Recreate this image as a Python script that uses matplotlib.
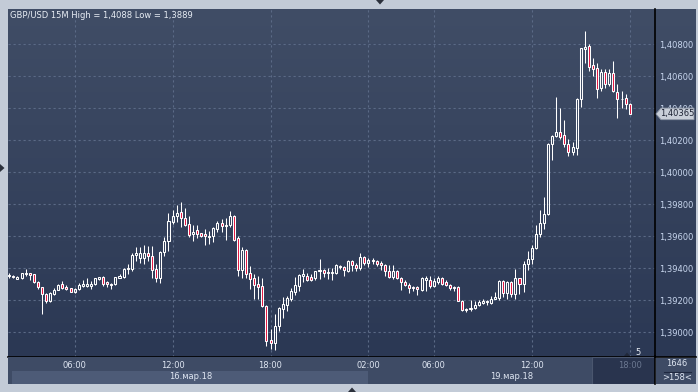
import numpy as np
import pandas as pd
import matplotlib
matplotlib.use('Agg')
import matplotlib.pyplot as plt
from matplotlib.patches import Rectangle, Polygon

# GBP/USD 15M candles, Fri 16.03.18 02:00-21:45 and Mon 19.03.18 00:00-18:00
opens = [1.39350, 1.39352, 1.39336, 1.39340, 1.39363, 1.39369, 1.39363, 1.39315, 1.39281, 1.39242,
         1.39196, 1.39242, 1.39267, 1.39300, 1.39286, 1.39275, 1.39250, 1.39273, 1.39290, 1.39290,
         1.39288, 1.39304, 1.39334, 1.39344, 1.39315, 1.39304, 1.39300, 1.39342, 1.39344, 1.39394,
         1.39394, 1.39482, 1.39463, 1.39465, 1.39495, 1.39476, 1.39393, 1.39341, 1.39504, 1.39569,
         1.39690, 1.39728, 1.39749, 1.39717, 1.39679, 1.39614, 1.39637, 1.39618, 1.39616, 1.39597,
         1.39601, 1.39643, 1.39685, 1.39664, 1.39669, 1.39728, 1.39592, 1.39389, 1.39516, 1.39368,
         1.39341, 1.39300, 1.39288, 1.39165, 1.38949, 1.38934, 1.39040, 1.39144, 1.39171, 1.39209,
         1.39250, 1.39292, 1.39353, 1.39355, 1.39345, 1.39341, 1.39381, 1.39389, 1.39377, 1.39372,
         1.39368, 1.39417, 1.39407, 1.39386, 1.39444, 1.39423, 1.39402, 1.39469, 1.39436, 1.39444,
         1.39448, 1.39434, 1.39423, 1.39386, 1.39346, 1.39386, 1.39340, 1.39312, 1.39298, 1.39282,
         1.39285, 1.39266, 1.39327, 1.39329, 1.39292, 1.39315, 1.39340, 1.39315, 1.39298, 1.39283,
         1.39285, 1.39197, 1.39147, 1.39145, 1.39151, 1.39172, 1.39185, 1.39190, 1.39185, 1.39210,
         1.39217, 1.39321, 1.39248, 1.39317, 1.39237, 1.39337, 1.39300, 1.39425, 1.39460, 1.39529,
         1.39612, 1.39685, 1.39737, 1.40175, 1.40227, 1.40254, 1.40231, 1.40175, 1.40127, 1.40154,
         1.40460, 1.40773, 1.40789, 1.40669, 1.40654, 1.40529, 1.40629, 1.40550, 1.40623, 1.40502,
         1.40460, 1.40462, 1.40425]
highs = [1.39373, 1.39358, 1.39354, 1.39373, 1.39394, 1.39373, 1.39365, 1.39319, 1.39285, 1.39246,
         1.39250, 1.39275, 1.39302, 1.39321, 1.39294, 1.39279, 1.39275, 1.39307, 1.39325, 1.39338,
         1.39321, 1.39342, 1.39346, 1.39350, 1.39319, 1.39311, 1.39348, 1.39367, 1.39402, 1.39429,
         1.39498, 1.39533, 1.39533, 1.39546, 1.39542, 1.39542, 1.39425, 1.39510, 1.39594, 1.39743,
         1.39764, 1.39796, 1.39812, 1.39774, 1.39728, 1.39669, 1.39673, 1.39622, 1.39647, 1.39633,
         1.39658, 1.39694, 1.39711, 1.39715, 1.39757, 1.39732, 1.39599, 1.39531, 1.39520, 1.39415,
         1.39362, 1.39351, 1.39341, 1.39171, 1.39023, 1.39112, 1.39161, 1.39220, 1.39224, 1.39277,
         1.39345, 1.39366, 1.39398, 1.39368, 1.39362, 1.39383, 1.39461, 1.39398, 1.39404, 1.39400,
         1.39425, 1.39423, 1.39413, 1.39450, 1.39455, 1.39434, 1.39496, 1.39475, 1.39463, 1.39465,
         1.39450, 1.39444, 1.39427, 1.39419, 1.39421, 1.39392, 1.39344, 1.39325, 1.39308, 1.39290,
         1.39290, 1.39346, 1.39350, 1.39355, 1.39340, 1.39350, 1.39346, 1.39327, 1.39302, 1.39292,
         1.39287, 1.39204, 1.39155, 1.39199, 1.39193, 1.39204, 1.39206, 1.39200, 1.39227, 1.39252,
         1.39327, 1.39327, 1.39321, 1.39321, 1.39394, 1.39342, 1.39446, 1.39508, 1.39546, 1.39669,
         1.39762, 1.39846, 1.40185, 1.40231, 1.40473, 1.40400, 1.40325, 1.40206, 1.40189, 1.40467,
         1.40779, 1.40880, 1.40800, 1.40717, 1.40681, 1.40644, 1.40648, 1.40648, 1.40696, 1.40550,
         1.40508, 1.40487, 1.40435]
lows = [1.39338, 1.39338, 1.39332, 1.39336, 1.39352, 1.39327, 1.39306, 1.39269, 1.39117, 1.39186,
        1.39192, 1.39234, 1.39263, 1.39269, 1.39265, 1.39250, 1.39246, 1.39263, 1.39284, 1.39284,
        1.39269, 1.39298, 1.39330, 1.39290, 1.39284, 1.39273, 1.39298, 1.39338, 1.39340, 1.39367,
        1.39384, 1.39446, 1.39436, 1.39425, 1.39446, 1.39341, 1.39313, 1.39309, 1.39478, 1.39510,
        1.39679, 1.39690, 1.39658, 1.39664, 1.39594, 1.39573, 1.39588, 1.39594, 1.39546, 1.39552,
        1.39563, 1.39630, 1.39626, 1.39578, 1.39658, 1.39573, 1.39351, 1.39341, 1.39341, 1.39271,
        1.39207, 1.39207, 1.39161, 1.38917, 1.38895, 1.38890, 1.39008, 1.39087, 1.39133, 1.39193,
        1.39235, 1.39256, 1.39313, 1.39319, 1.39319, 1.39330, 1.39334, 1.39345, 1.39334, 1.39330,
        1.39362, 1.39398, 1.39350, 1.39377, 1.39386, 1.39381, 1.39392, 1.39423, 1.39410, 1.39427,
        1.39415, 1.39392, 1.39350, 1.39340, 1.39335, 1.39335, 1.39267, 1.39287, 1.39246, 1.39256,
        1.39235, 1.39260, 1.39256, 1.39275, 1.39283, 1.39300, 1.39296, 1.39287, 1.39267, 1.39260,
        1.39193, 1.39131, 1.39126, 1.39135, 1.39145, 1.39164, 1.39175, 1.39171, 1.39175, 1.39206,
        1.39202, 1.39223, 1.39206, 1.39223, 1.39210, 1.39237, 1.39254, 1.39390, 1.39425, 1.39519,
        1.39596, 1.39646, 1.39733, 1.40075, 1.40223, 1.40210, 1.40160, 1.40100, 1.40108, 1.40108,
        1.40410, 1.40685, 1.40633, 1.40602, 1.40467, 1.40508, 1.40529, 1.40539, 1.40502, 1.40342,
        1.40404, 1.40394, 1.40362]
closes = [1.39358, 1.39348, 1.39346, 1.39369, 1.39373, 1.39358, 1.39315, 1.39281, 1.39238, 1.39194,
          1.39244, 1.39265, 1.39298, 1.39275, 1.39273, 1.39252, 1.39271, 1.39298, 1.39300, 1.39302,
          1.39304, 1.39338, 1.39344, 1.39304, 1.39300, 1.39296, 1.39344, 1.39352, 1.39398, 1.39404,
          1.39484, 1.39494, 1.39494, 1.39493, 1.39474, 1.39389, 1.39341, 1.39504, 1.39573, 1.39694,
          1.39726, 1.39743, 1.39715, 1.39673, 1.39609, 1.39630, 1.39616, 1.39605, 1.39599, 1.39605,
          1.39652, 1.39681, 1.39664, 1.39673, 1.39726, 1.39580, 1.39389, 1.39516, 1.39362, 1.39334,
          1.39298, 1.39283, 1.39165, 1.38947, 1.38934, 1.39038, 1.39150, 1.39176, 1.39214, 1.39256,
          1.39294, 1.39357, 1.39364, 1.39330, 1.39330, 1.39381, 1.39389, 1.39368, 1.39372, 1.39377,
          1.39419, 1.39407, 1.39390, 1.39444, 1.39423, 1.39402, 1.39469, 1.39434, 1.39450, 1.39452,
          1.39427, 1.39423, 1.39386, 1.39346, 1.39386, 1.39340, 1.39312, 1.39298, 1.39277, 1.39277,
          1.39269, 1.39340, 1.39340, 1.39292, 1.39319, 1.39340, 1.39302, 1.39298, 1.39277, 1.39279,
          1.39197, 1.39141, 1.39141, 1.39155, 1.39172, 1.39189, 1.39194, 1.39194, 1.39210, 1.39221,
          1.39321, 1.39244, 1.39317, 1.39237, 1.39337, 1.39300, 1.39425, 1.39456, 1.39525, 1.39612,
          1.39681, 1.39737, 1.40175, 1.40227, 1.40254, 1.40223, 1.40175, 1.40127, 1.40158, 1.40460,
          1.40775, 1.40783, 1.40660, 1.40648, 1.40519, 1.40629, 1.40550, 1.40623, 1.40508, 1.40460,
          1.40456, 1.40425, 1.40365]

# candle times (two trading sessions, weekend gap removed)
times = list(pd.date_range('2018-03-16 02:00', '2018-03-16 21:45', freq='15min')) + \
        list(pd.date_range('2018-03-19 00:00', '2018-03-19 18:00', freq='15min'))
time_marks = ['2018-03-16 06:00', '2018-03-16 12:00', '2018-03-16 18:00', '2018-03-19 02:00',
              '2018-03-19 06:00', '2018-03-19 12:00', '2018-03-19 18:00']
date_labels = ['16.мар.18', '19.мар.18']
price_ticks = [1.390, 1.392, 1.394, 1.396, 1.398, 1.400, 1.402, 1.404, 1.406, 1.408]
title = 'GBP/USD 15M High = 1,4088 Low = 1,3889'
bars_total = '1646'
bars_visible = '>158<'

W, H = 698, 392
fig = plt.figure(figsize=(W / 100, H / 100), dpi=100)
fig.patch.set_facecolor('#c3cbd7')
FONT = 'DejaVu Sans'
FS = 6.0


def rect(x0, y0, x1, y1):
    # pixel box (from top-left) -> figure fraction
    return [x0 / W, 1 - y1 / H, (x1 - x0) / W, (y1 - y0) / H]


# gradient background of chart + price scale
bg = fig.add_axes(rect(8, 9, 696, 357))
g = np.linspace(0, 1, 256)[:, None, None]
top = np.array([64, 77, 102]) / 255
bot = np.array([43, 56, 84]) / 255
bg.imshow(top + (bot - top) * g, aspect='auto', extent=[0, 1, 0, 1])
bg.axis('off')

n = len(opens)
mark_idx = [times.index(pd.Timestamp(t)) for t in time_marks]

ax = fig.add_axes(rect(8, 9, 655, 356.5))
ax.patch.set_alpha(0)
ax.set_xlim(-0.32, 158.2)
ax.set_ylim(1.388488, 1.410206)
ax.set_xticks(mark_idx)
ax.set_xticklabels([])
ax.set_yticks(price_ticks)
ax.set_yticklabels([('%.5f' % v).replace('.', ',') for v in price_ticks])
ax.yaxis.tick_right()
ax.tick_params(axis='both', length=0)
ax.tick_params(axis='y', pad=3, labelsize=FS, labelcolor='#c8d6ee')
for lab in ax.get_yticklabels():
    lab.set_family(FONT)
ax.grid(color='#5b6a86', ls=(0, (2, 2.5)), lw=0.8)
for s in ['top', 'left']:
    ax.spines[s].set_visible(False)
for s in ['right', 'bottom']:
    ax.spines[s].set_color('black')
    ax.spines[s].set_linewidth(1.2)

# candles
bw = 0.5
red = '#e3123e'
for i in range(n):
    o, h, l, c = opens[i], highs[i], lows[i], closes[i]
    lo, hi = min(o, c), max(o, c)
    if hi - lo < 0.00003:
        mid = (hi + lo) / 2
        lo, hi = mid - 0.000015, mid + 0.000015
    ax.plot([i, i], [hi, h], color='white', lw=0.75, solid_capstyle='butt', zorder=3)
    ax.plot([i, i], [l, lo], color='white', lw=0.75, solid_capstyle='butt', zorder=3)
    fc = red if c < o else 'none'
    ax.add_patch(Rectangle((i - bw / 2, lo), bw, hi - lo, facecolor=fc,
                           edgecolor='white', lw=0.75, zorder=4))

# time / date strip
st = fig.add_axes(rect(8, 357, 655, 384))
st.set_xlim(ax.get_xlim())
st.set_ylim(0, 1)
st.axis('off')
st.add_patch(Rectangle((-1, 0), 200, 1, facecolor='#3e4b65', edgecolor='none'))
split = mark_idx[3]
st.add_patch(Rectangle((0.7, 0), split - 0.7, 0.5, facecolor='#4d5b77', edgecolor='none'))
day_edges = [(0.7, split), (split, 158.2)]
dark_x0 = (592 - 8) / 647 * (158.2 + 0.32) - 0.32
st.add_patch(Rectangle((dark_x0, 0), 200, 1, facecolor='#29344e', edgecolor='#4a566e', lw=0.8))
for m in mark_idx:
    col = '#6b7891' if m > dark_x0 else '#dfe6f2'
    st.text(m, 0.68, times[m].strftime('%H:%M'), ha='center', va='center',
            fontsize=FS, color=col, family=FONT)
for (a, b), lab in zip(day_edges, date_labels):
    st.text((a + b) / 2, 0.27, lab, ha='center', va='center', fontsize=FS,
            color='#dfe6f2', family=FONT)

# overlay in pixel coordinates
ov = fig.add_axes([0, 0, 1, 1])
ov.set_xlim(0, W)
ov.set_ylim(H, 0)
ov.axis('off')
ov.patch.set_alpha(0)
ov.plot([655, 655], [356, 384], color='black', lw=1.2)
ov.plot([655, 696], [356.6, 356.6], color='black', lw=1.2)
ov.add_patch(Rectangle((656, 357.5), 40, 26.5, facecolor='#3e4b65', edgecolor='none'))
ov.text(677, 364, bars_total, ha='center', va='center', fontsize=FS, color='#dfe6f2', family=FONT)
ov.plot([664, 691], [371.5, 371.5], color='#1f2840', lw=0.8)
ov.text(677, 378, bars_visible, ha='center', va='center', fontsize=FS, color='#dfe6f2', family=FONT)

ov.text(10, 15, title, ha='left', va='center', fontsize=FS, color='#e8edf4', family=FONT)
ov.text(638, 352.5, '5', ha='center', va='center', fontsize=FS, color='#e8edf4', family=FONT)
ov.add_patch(Polygon([(624, 356), (630, 356), (627, 352.5)], facecolor='#20283a', edgecolor='none'))

# last price tag
fig.canvas.draw()
ty = H - ax.transData.transform((0, closes[-1]))[1]
ov.add_patch(Polygon([(656, ty), (661, ty - 5.8), (694, ty - 5.8), (694, ty + 5.8), (661, ty + 5.8)],
                     facecolor='#c9cfd9', edgecolor='#8d96a6', lw=0.6, zorder=5))
ov.text(677.5, ty, ('%.5f' % closes[-1]).replace('.', ','), ha='center', va='center',
        fontsize=FS, color='#1c2233', family=FONT, zorder=6)

# border arrows
arrow = '#2b303b'
ov.add_patch(Polygon([(376, 0), (384, 0), (380, 4.5)], facecolor=arrow, edgecolor='none'))
ov.add_patch(Polygon([(0, 164), (0, 172), (4.5, 168)], facecolor=arrow, edgecolor='none'))
ov.add_patch(Polygon([(348, 392), (356, 392), (352, 387.5)], facecolor=arrow, edgecolor='none'))

fig.savefig('out.png', dpi=100, facecolor=fig.get_facecolor())
